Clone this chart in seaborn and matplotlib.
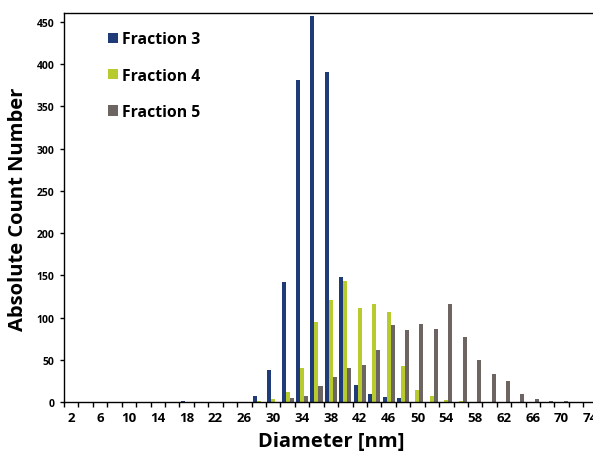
import matplotlib
matplotlib.use("Agg")
import matplotlib.pyplot as plt
import pandas as pd
import seaborn as sns
import numpy as np

# data
diameters = list(range(2, 76, 2))
fraction3 = [0, 0, 0, 0, 0, 0, 0, 0, 2, 0, 0, 0, 0, 7, 38, 142, 381, 457, 391,
             148, 20, 10, 6, 5, 0, 0, 0, 0, 0, 0, 0, 0, 0, 0, 0, 0, 0]
fraction4 = [0, 0, 0, 0, 0, 0, 0, 0, 0, 0, 0, 0, 0, 2, 4, 12, 40, 95, 121,
             144, 112, 116, 107, 43, 15, 7, 3, 2, 0, 0, 0, 0, 0, 0, 0, 0, 0]
fraction5 = [0, 0, 0, 0, 0, 0, 0, 0, 0, 0, 0, 0, 0, 0, 0, 5, 8, 19, 30,
             40, 44, 62, 92, 86, 93, 87, 116, 77, 50, 33, 25, 10, 4, 1.5, 1.5, 0, 0]
series_names = ["Fraction 3", "Fraction 4", "Fraction 5"]
colors = ["#1F3C78", "#B8CB2E", "#6C6562"]

df = pd.DataFrame({
    "Diameter": diameters * 3,
    "Count": fraction3 + fraction4 + fraction5,
    "Fraction": np.repeat(series_names, len(diameters)),
})

sns.set_style("ticks")
plt.rcParams["font.family"] = ["Open Sans", "DejaVu Sans"]
plt.rcParams["text.color"] = "black"
plt.rcParams["axes.labelcolor"] = "black"
plt.rcParams["xtick.color"] = "black"
plt.rcParams["ytick.color"] = "black"

fig = plt.figure(figsize=(5.93, 4.52), dpi=100)
ax = fig.add_axes([0.108, 0.1077, 0.9, 0.8606])

sns.barplot(data=df, x="Diameter", y="Count", hue="Fraction", order=diameters,
            palette=colors, saturation=1, width=0.84, linewidth=0, ax=ax)

ax.set_ylim(0, 460)
ax.set_xlim(-0.5, len(diameters) - 0.5)
ax.set_yticks(range(0, 451, 50))
ax.tick_params(axis="y", labelsize=7.5, length=3, width=1, pad=4)
for t in ax.get_yticklabels():
    t.set_fontweight("bold")

# ticks between categories, labels on every other category
ax.set_xticks(np.arange(len(diameters) + 1) - 0.5, labels=[])
ax.set_xticks(np.arange(0, len(diameters), 2),
              labels=[str(d) for d in diameters[::2]], minor=True)
ax.tick_params(axis="x", which="major", length=3.5, width=1)
ax.tick_params(axis="x", which="minor", length=0, labelsize=9.5, pad=6)
for t in ax.get_xticklabels(minor=True):
    t.set_fontweight("bold")

for s in ["left", "bottom", "top", "right"]:
    ax.spines[s].set_visible(True)
    ax.spines[s].set_color("black")
    ax.spines[s].set_linewidth(1)

ax.set_xlabel("Diameter [nm]", fontsize=14.5, fontweight="bold", labelpad=5)
ax.set_ylabel("Absolute Count Number", fontsize=14.5, fontweight="bold", labelpad=6)

handles, labels = ax.get_legend_handles_labels()
ax.legend(handles, labels, loc="upper left", bbox_to_anchor=(0.055, 0.99),
          frameon=False, prop={"size": 11.3, "weight": "bold"},
          labelspacing=1.3, handlelength=0.65, handleheight=0.65,
          handletextpad=0.3)

fig.savefig("out.png", dpi=100)
